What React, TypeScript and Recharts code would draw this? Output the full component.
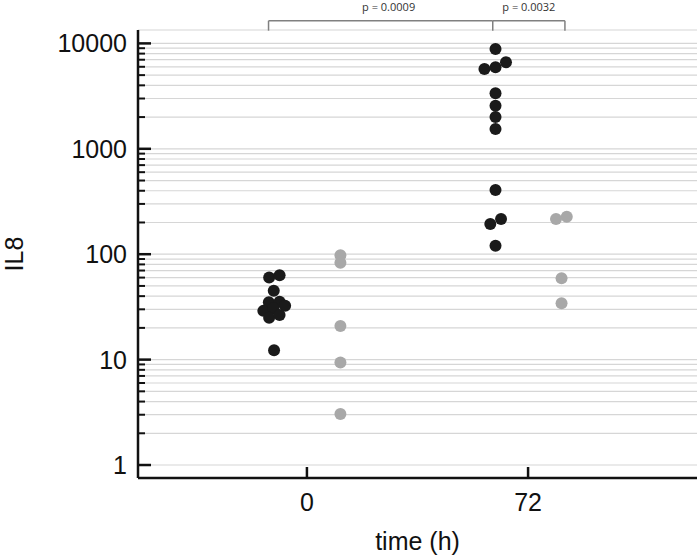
import { ScatterChart, Scatter, XAxis, YAxis, CartesianGrid, ReferenceLine, Label } from 'recharts';

// IL8 values, with the horizontal jitter of each dot (in hours)
const black0Values = [60, 63, 45, 35, 35.4, 29, 32.5, 30.7, 25, 26.5, 12.3];
const black0X = [-12.3, -8.9, -10.8, -12.4, -8.9, -14.2, -7.1, -10.9, -12.3, -8.9, -10.7];

const grey0Values = [98, 83, 20.8, 9.4, 3.05];
const grey0X = [10.9, 10.9, 10.9, 10.9, 10.9];

const black72Values = [8850, 5720, 5930, 6620, 3360, 2565, 2000, 1540, 406, 193, 216, 120];
const black72X = [61.4, 57.8, 61.4, 64.8, 61.4, 61.4, 61.4, 61.4, 61.4, 59.7, 63.2, 61.4];

const grey72Values = [216, 227, 59, 34.2];
const grey72X = [81.1, 84.6, 82.9, 82.9];

const timeTicks = [0, 72];
const il8Ticks = [
  1, 2, 3, 4, 5, 6, 7, 8, 9,
  10, 20, 30, 40, 50, 60, 70, 80, 90,
  100, 200, 300, 400, 500, 600, 700, 800, 900,
  1000, 2000, 3000, 4000, 5000, 6000, 7000, 8000, 9000,
  10000,
];

// p-value brackets
const bracketX = [-12.5, 60.5, 84];
const bracketTop = 16400;
const bracketFoot = 13200;
const pLabels = ['p = 0.0009', 'p = 0.0032'];

const toPoints = (values: number[], xs: number[]) =>
  values.map((v, i) => ({ x: xs[i], y: v }));

const black0 = toPoints(black0Values, black0X);
const grey0 = toPoints(grey0Values, grey0X);
const black72 = toPoints(black72Values, black72X);
const grey72 = toPoints(grey72Values, grey72X);

const FONT = '"Liberation Sans", Arial, sans-serif';

const isPow10 = (v: number) => Math.abs(Math.log10(v) - Math.round(Math.log10(v))) < 1e-9;

const YTick = (props: any) => {
  const { x, y, payload } = props;
  const v = payload.value;
  const major = isPow10(v);
  const ax = x + 11;
  return (
    <g>
      <line x1={ax} x2={ax + (major ? 13 : 7)} y1={y} y2={y} stroke="#111" strokeWidth={major ? 2.5 : 2} />
      {major && (
        <text x={x} y={y} textAnchor="end" dominantBaseline="central" fontSize={25} fontFamily={FONT} fill="#111">
          {v}
        </text>
      )}
    </g>
  );
};

const XTick = (props: any) => {
  const { x, y, payload } = props;
  const ay = y - 10;
  return (
    <g>
      <line x1={x} x2={x} y1={ay} y2={ay - 11} stroke="#111" strokeWidth={2.5} />
      <text x={x} y={ay + 24} textAnchor="middle" dominantBaseline="central" fontSize={25} fontFamily={FONT} fill="#111">
        {payload.value}
      </text>
    </g>
  );
};

const dot = (fill: string) => (props: any) => <circle cx={props.cx} cy={props.cy} r={6} fill={fill} />;

const bracketStyle = { stroke: '#808080', strokeWidth: 1.5 };
const pLabelStyle = { fontSize: 11, fontFamily: '"Open Sans", sans-serif', fill: '#333', stroke: 'none' };

const App = () => {
  return (
    <div style={{ position: 'absolute', left: 0, top: 0, width: 700, height: 555, background: '#fff' }}>
      <ScatterChart width={700} height={555} margin={{ top: 30, right: 3, bottom: 0, left: 0 }}>
        <CartesianGrid horizontal vertical={false} stroke="#d6d6d6" strokeWidth={1.2} />
        <XAxis
          type="number"
          dataKey="x"
          domain={[-55, 127]}
          ticks={timeTicks}
          interval={0}
          height={77}
          tickSize={0}
          tickMargin={10}
          tickLine={false}
          tick={<XTick />}
          axisLine={{ stroke: '#111', strokeWidth: 2.5 }}
        >
          <Label value="time (h)" position="insideBottom" offset={5} style={{ fontSize: 25, fontFamily: FONT, fill: '#111' }} />
        </XAxis>
        <YAxis
          type="number"
          dataKey="y"
          scale="log"
          domain={[0.753, 13400]}
          allowDataOverflow
          ticks={il8Ticks}
          interval={0}
          width={138}
          tickSize={0}
          tickMargin={11}
          tickLine={false}
          tick={<YTick />}
          axisLine={{ stroke: '#111', strokeWidth: 2.5 }}
        >
          <Label
            content={(p: any) => {
              const vb = p.viewBox;
              const cy = vb.y + vb.height / 2;
              return (
                <text x={14} y={cy} transform={`rotate(-90, 14, ${cy})`} textAnchor="middle" dominantBaseline="central" fontSize={25} fontFamily={FONT} fill="#111">
                  IL8
                </text>
              );
            }}
          />
        </YAxis>

        <ReferenceLine
          segment={[{ x: bracketX[0], y: bracketTop }, { x: bracketX[1], y: bracketTop }]}
          ifOverflow="visible"
          {...bracketStyle}
          label={{ value: pLabels[0], position: 'top', offset: 10, dx: 8, ...pLabelStyle }}
        />
        <ReferenceLine
          segment={[{ x: bracketX[1], y: bracketTop }, { x: bracketX[2], y: bracketTop }]}
          ifOverflow="visible"
          {...bracketStyle}
          label={{ value: pLabels[1], position: 'top', offset: 10, ...pLabelStyle }}
        />
        {bracketX.map((bx) => (
          <ReferenceLine
            key={bx}
            segment={[{ x: bx, y: bracketTop }, { x: bx, y: bracketFoot }]}
            ifOverflow="visible"
            {...bracketStyle}
          />
        ))}

        <Scatter data={black0} shape={dot('#1a1a1a')} isAnimationActive={false} />
        <Scatter data={grey0} shape={dot('#a8a8a8')} isAnimationActive={false} />
        <Scatter data={black72} shape={dot('#1a1a1a')} isAnimationActive={false} />
        <Scatter data={grey72} shape={dot('#a8a8a8')} isAnimationActive={false} />
      </ScatterChart>
    </div>
  );
};

export default App;
